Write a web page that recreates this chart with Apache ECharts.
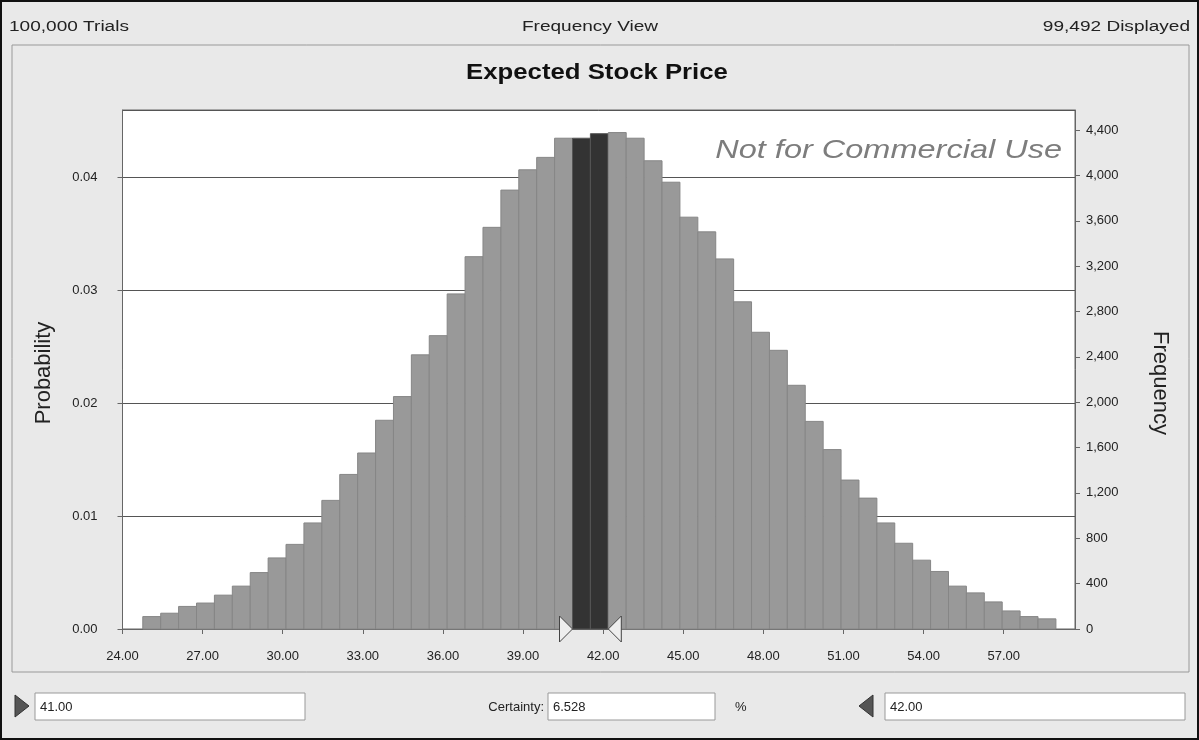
<!DOCTYPE html>
<html><head><meta charset="utf-8">
<script src="https://cdn.jsdelivr.net/npm/echarts@6/dist/echarts.min.js"></script>
<style>html,body{margin:0;padding:0;background:#e9e9e9}#c{width:1199px;height:740px}</style>
</head><body><div id="c"></div>
<script>
// ---- data ----
const chartTitle = 'Expected Stock Price';
const headerLeft = '100,000 Trials';
const headerCenter = 'Frequency View';
const headerRight = '99,492 Displayed';
const watermark = 'Not for Commercial Use';
const displayedTrials = 99492;
const binStart = 24.76;      // lower edge of first bin
const binWidth = 0.6705;     // width of each bin
const probabilities = [
  0.0011, 0.0014, 0.0020, 0.0023, 0.0030, 0.0038, 0.0050, 0.0063, 0.0075, 0.0094,
  0.0114, 0.0137, 0.0156, 0.0185, 0.0206, 0.0243, 0.0260, 0.0297, 0.0330, 0.0356,
  0.0389, 0.0407, 0.0418, 0.0435, 0.0435, 0.0439, 0.0440, 0.0435, 0.0415, 0.0396,
  0.0365, 0.0352, 0.0328, 0.0290, 0.0263, 0.0247, 0.0216, 0.0184, 0.0159, 0.0132,
  0.0116, 0.0094, 0.0076, 0.0061, 0.0051, 0.0038, 0.0032, 0.0024, 0.0016, 0.0011,
  0.0009
];
const xMin = 24, xMax = 59.67, xInterval = 3;
const probMax = 0.046, probInterval = 0.01;
const freqInterval = 400;
const certaintyRange = [41.00, 42.00];
const certaintyText = '6.528';

// ---- build ----
const bins = probabilities.map((p, k) => {
  const lo = binStart + k * binWidth, hi = lo + binWidth;
  const inRange = (hi > certaintyRange[0] && lo < certaintyRange[1]) ? 1 : 0;
  return [lo, hi, p, inRange];
});
const sel = bins.filter(b => b[3]);
const grabbers = [[sel[0][0], 1], [sel[sel.length - 1][1], -1]];

const FONT = 'Liberation Sans';
const chart = echarts.init(document.getElementById('c'));
chart.setOption({
  backgroundColor: '#e9e9e9',
  animation: false,
  textStyle: { fontFamily: FONT },
  grid: { left: 122.5, right: 124, top: 110, bottom: 111, show: true, backgroundColor: '#ffffff', borderColor: '#666', borderWidth: 1 },
  xAxis: {
    type: 'value', min: xMin, max: xMax, interval: xInterval,
    axisLine: { show: true, lineStyle: { color: '#666' } },
    axisTick: { show: true, length: 5, lineStyle: { color: '#666' } },
    splitLine: { show: false },
    axisLabel: { color: '#222', fontSize: 13, margin: 21, showMaxLabel: false,
      formatter: v => (Math.abs(v / xInterval - Math.round(v / xInterval)) < 1e-6 ? v.toFixed(2) : '') }
  },
  yAxis: [{
    type: 'value', min: 0, max: probMax, interval: probInterval, position: 'left',
    axisLine: { show: true, lineStyle: { color: '#666' } },
    axisTick: { show: true, length: 5, lineStyle: { color: '#666' } },
    splitLine: { show: true, lineStyle: { color: '#555', width: 1 } },
    axisLabel: { color: '#222', fontSize: 13, margin: 25, showMaxLabel: false,
      formatter: v => (v < probMax - 1e-9 ? v.toFixed(2) : '') }
  }, {
    type: 'value', min: 0, max: probMax * displayedTrials, interval: freqInterval, position: 'right',
    axisLine: { show: true, lineStyle: { color: '#666' } },
    axisTick: { show: true, length: 5, lineStyle: { color: '#666' } },
    splitLine: { show: false },
    axisLabel: { color: '#222', fontSize: 13, margin: 11, showMaxLabel: false,
      formatter: v => (v % freqInterval === 0 ? v.toLocaleString('en-US') : '') }
  }],
  series: [{
    type: 'custom', name: 'bins', data: bins, encode: { x: [0, 1], y: 2 },
    renderItem: (params, api) => {
      const a = api.coord([api.value(0), api.value(2)]);
      const b = api.coord([api.value(1), 0]);
      const hi = api.value(3);
      return { type: 'rect', shape: { x: a[0], y: a[1], width: b[0] - a[0], height: b[1] - a[1] },
        style: { fill: hi ? '#333333' : '#999999', stroke: hi ? '#555' : '#868686', lineWidth: 1 } };
    }
  }, {
    type: 'custom', name: 'grabbers', data: grabbers, clip: false, z: 5,
    encode: { x: 0 },
    renderItem: (params, api) => {
      const p = api.coord([api.value(0), 0]);
      const d = api.value(1), w = 13, h = 13;
      const base = p[0] - d * w;
      return { type: 'polygon', shape: { points: [[base, p[1] - h], [p[0], p[1]], [base, p[1] + h]] },
        style: { fill: '#eeeeee', stroke: '#444', lineWidth: 1 } };
    }
  }],
  graphic: [
    { type: 'rect', shape: { x: 1, y: 1, width: 1197, height: 738 }, style: { fill: 'none', stroke: '#111', lineWidth: 2 } },
    { type: 'rect', shape: { x: 12, y: 45, width: 1177, height: 627 }, style: { fill: 'none', stroke: '#999', lineWidth: 1 } },
    { type: 'text', x: 9, y: 27, scaleX: 1.36, style: { text: headerLeft, font: '14px ' + FONT, fill: '#222', verticalAlign: 'middle' } },
    { type: 'text', x: 590, y: 27, scaleX: 1.36, style: { text: headerCenter, font: '14px ' + FONT, fill: '#222', align: 'center', verticalAlign: 'middle' } },
    { type: 'text', x: 1190, y: 27, scaleX: 1.36, style: { text: headerRight, font: '14px ' + FONT, fill: '#222', align: 'right', verticalAlign: 'middle' } },
    { type: 'text', x: 597, y: 73, scaleX: 1.17, style: { text: chartTitle, font: 'bold 22px ' + FONT, fill: '#111', align: 'center', verticalAlign: 'middle' } },
    { type: 'text', x: 1062, y: 151, z: 10, scaleX: 1.3, style: { text: watermark, font: 'italic 25px ' + FONT, fill: '#7d7d7d', align: 'right', verticalAlign: 'middle' } },
    { type: 'text', x: 44, y: 373, rotation: Math.PI / 2, style: { text: 'Probability', font: '22px ' + FONT, fill: '#222', align: 'center', verticalAlign: 'middle' } },
    { type: 'text', x: 1160, y: 383, rotation: -Math.PI / 2, style: { text: 'Frequency', font: '22px ' + FONT, fill: '#222', align: 'center', verticalAlign: 'middle' } },
    // bottom controls
    { type: 'polygon', shape: { points: [[15, 695], [29, 706], [15, 717]] }, style: { fill: '#555', stroke: '#333' } },
    { type: 'rect', shape: { x: 35, y: 693, width: 270, height: 27 }, style: { fill: '#fff', stroke: '#999' } },
    { type: 'text', x: 40, y: 707, style: { text: certaintyRange[0].toFixed(2), font: '13px ' + FONT, fill: '#222', verticalAlign: 'middle' } },
    { type: 'text', x: 544, y: 707, style: { text: 'Certainty:', font: '13px ' + FONT, fill: '#222', align: 'right', verticalAlign: 'middle' } },
    { type: 'rect', shape: { x: 548, y: 693, width: 167, height: 27 }, style: { fill: '#fff', stroke: '#999' } },
    { type: 'text', x: 553, y: 707, style: { text: certaintyText, font: '13px ' + FONT, fill: '#222', verticalAlign: 'middle' } },
    { type: 'text', x: 735, y: 707, style: { text: '%', font: '13px ' + FONT, fill: '#222', verticalAlign: 'middle' } },
    { type: 'polygon', shape: { points: [[873, 695], [859, 706], [873, 717]] }, style: { fill: '#555', stroke: '#333' } },
    { type: 'rect', shape: { x: 885, y: 693, width: 300, height: 27 }, style: { fill: '#fff', stroke: '#999' } },
    { type: 'text', x: 890, y: 707, style: { text: certaintyRange[1].toFixed(2), font: '13px ' + FONT, fill: '#222', verticalAlign: 'middle' } }
  ]
});
</script></body></html>
